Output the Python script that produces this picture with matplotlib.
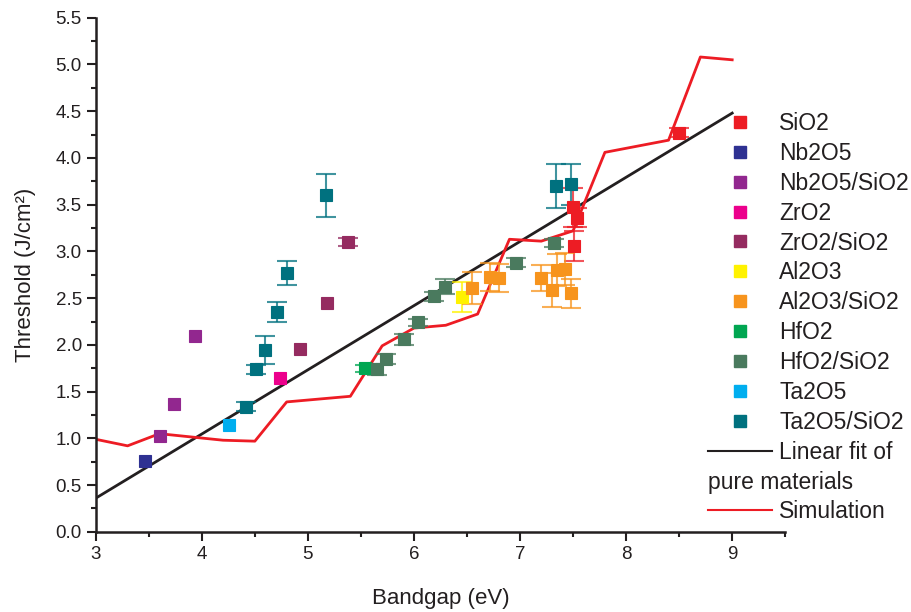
import matplotlib
matplotlib.use("Agg")
import matplotlib.pyplot as plt
from matplotlib.lines import Line2D

plt.rcParams['font.family'] = ['Liberation Sans', 'DejaVu Sans']

# ---- data ----
sio2_x = [7.50, 7.54, 7.51, 8.50]
sio2_y = [3.47, 3.36, 3.06, 4.27]
sio2_e = [0.21, 0.10, 0.16, 0.05]

nb2o5_x = [3.46]
nb2o5_y = [0.76]
nb2o5_e = [0.0]

nb2o5sio2_x = [3.61, 3.74, 3.94]
nb2o5sio2_y = [1.02, 1.37, 2.09]
nb2o5sio2_e = [0.0, 0.0, 0.0]

zro2_x = [4.74]
zro2_y = [1.65]
zro2_e = [0.0]

zro2sio2_x = [4.93, 5.18, 5.38]
zro2sio2_y = [1.96, 2.45, 3.10]
zro2sio2_e = [0.0, 0.0, 0.04]

al2o3_x = [6.45]
al2o3_y = [2.51]
al2o3_e = [0.16]

al2o3sio2_x = [6.55, 6.72, 6.80, 7.20, 7.30, 7.35, 7.42, 7.48]
al2o3sio2_y = [2.61, 2.73, 2.72, 2.72, 2.59, 2.80, 2.81, 2.55]
al2o3sio2_e = [0.17, 0.15, 0.15, 0.14, 0.18, 0.17, 0.17, 0.15]

hfo2_x = [5.54]
hfo2_y = [1.75]
hfo2_e = [0.04]

hfo2sio2_x = [5.65, 5.74, 5.91, 6.04, 6.19, 6.29, 6.96, 7.32]
hfo2sio2_y = [1.74, 1.85, 2.06, 2.24, 2.52, 2.62, 2.88, 3.09]
hfo2sio2_e = [0.06, 0.05, 0.06, 0.04, 0.05, 0.08, 0.05, 0.04]

ta2o5_x = [4.26]
ta2o5_y = [1.14]
ta2o5_e = [0.0]

ta2o5sio2_x = [4.42, 4.51, 4.60, 4.71, 4.80, 5.17, 7.34, 7.48]
ta2o5sio2_y = [1.34, 1.74, 1.95, 2.35, 2.77, 3.60, 3.70, 3.72]
ta2o5sio2_e = [0.05, 0.05, 0.15, 0.11, 0.13, 0.23, 0.24, 0.22]

fit_x = [3.0, 9.0]
fit_y = [0.36, 4.48]

sim_x = [3.0, 3.3, 3.6, 4.2, 4.5, 4.8, 5.4, 5.7, 6.0, 6.3, 6.6, 6.9, 7.2, 7.5, 7.8, 8.4, 8.7, 9.0]
sim_y = [0.99, 0.92, 1.05, 0.98, 0.97, 1.39, 1.45, 1.99, 2.18, 2.21, 2.33, 3.13, 3.11, 3.22, 4.06, 4.19, 5.08, 5.05]

series = [
    ("SiO2", sio2_x, sio2_y, sio2_e, "#ED1C24"),
    ("Nb2O5", nb2o5_x, nb2o5_y, nb2o5_e, "#2E3192"),
    ("Nb2O5/SiO2", nb2o5sio2_x, nb2o5sio2_y, nb2o5sio2_e, "#92278F"),
    ("ZrO2", zro2_x, zro2_y, zro2_e, "#EC008C"),
    ("ZrO2/SiO2", zro2sio2_x, zro2sio2_y, zro2sio2_e, "#952B60"),
    ("Al2O3", al2o3_x, al2o3_y, al2o3_e, "#FFF200"),
    ("Al2O3/SiO2", al2o3sio2_x, al2o3sio2_y, al2o3sio2_e, "#F7941D"),
    ("HfO2", hfo2_x, hfo2_y, hfo2_e, "#00A651"),
    ("HfO2/SiO2", hfo2sio2_x, hfo2sio2_y, hfo2sio2_e, "#4A7A5E"),
    ("Ta2O5", ta2o5_x, ta2o5_y, ta2o5_e, "#00AEEF"),
    ("Ta2O5/SiO2", ta2o5sio2_x, ta2o5sio2_y, ta2o5sio2_e, "#00717F"),
]

dark = "#231F20"

fig = plt.figure(figsize=(9.12, 6.12), dpi=100)
ax = fig.add_axes([0.105, 0.131, 0.756, 0.840])

ax.plot(fit_x, fit_y, color=dark, lw=2, zorder=2)
ax.plot(sim_x, sim_y, color="#ED1C24", lw=2, zorder=2)

handles = []
labels = []
for name, x, y, e, c in series:
    # only points with a measured spread get an error bar
    ex = [xi for xi, ei in zip(x, e) if ei > 0]
    ey = [yi for yi, ei in zip(y, e) if ei > 0]
    ee = [ei for ei in e if ei > 0]
    if ee:
        ax.errorbar(ex, ey, yerr=ee, fmt='none', ecolor=c, elinewidth=1.5,
                    capsize=7, capthick=1.5, alpha=0.75, zorder=3)
    ax.plot(x, y, 's', color=c, ms=8.5, mec=c, mew=0.8, zorder=4)
    handles.append(Line2D([], [], marker='s', ls='none', color=c, ms=8.5))
    labels.append(name)

# fit label wraps onto a second row, so keep an empty row for it
handles.append(Line2D([], [], color=dark, lw=1.5))
labels.append("Linear fit of")
handles.append(Line2D([], [], color='none', lw=0))
labels.append(" ")
handles.append(Line2D([], [], color="#ED1C24", lw=1.5))
labels.append("Simulation")

ax.set_xlim(3, 9.5)
ax.set_ylim(0, 5.5)
ax.set_xticks([3, 4, 5, 6, 7, 8, 9])
ax.set_xticks([3.5, 4.5, 5.5, 6.5, 7.5, 8.5, 9.5], minor=True)
ax.set_yticks([0.5 * i for i in range(12)])
ax.set_yticklabels(["%.1f" % (0.5 * i) for i in range(12)])
ax.set_yticks([0.25 + 0.5 * i for i in range(11)], minor=True)

for s in ['top', 'right']:
    ax.spines[s].set_visible(False)
for s in ['left', 'bottom']:
    ax.spines[s].set_linewidth(1.8)
    ax.spines[s].set_color(dark)
ax.tick_params(which='major', direction='out', length=6.5, width=1.5, labelsize=13.5,
               colors=dark)
ax.tick_params(which='minor', direction='out', length=3.3, width=1.5, colors=dark)

ax.set_xlabel("Bandgap (eV)", fontsize=16, color=dark, labelpad=18)
ax.set_ylabel("Threshold (J/cm²)", fontsize=16, color=dark, labelpad=14)

leg = ax.legend(handles, labels, loc='upper left', bbox_to_anchor=(708 / 912, 1 - 112 / 612),
                bbox_transform=fig.transFigure, frameon=False, fontsize=16.5,
                handlelength=2.8, handletextpad=0.3, labelspacing=0.3,
                borderaxespad=0, borderpad=0)
for t in leg.get_texts():
    t.set_color(dark)

fig.text(708 / 912, 1 - 483 / 612, "pure materials", fontsize=16.5, color=dark,
         va='center', ha='left')

fig.savefig("out.png", dpi=100)
